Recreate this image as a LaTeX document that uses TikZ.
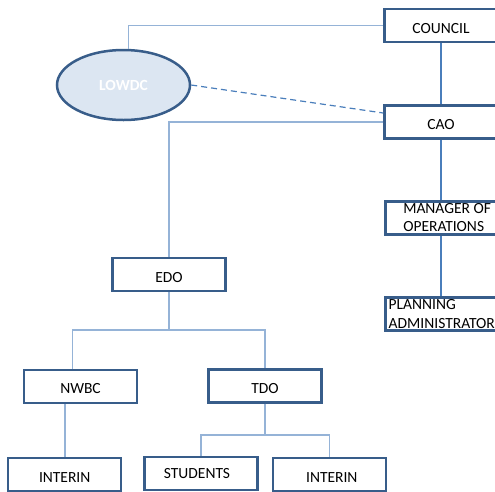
\documentclass[tikz,border=0pt]{standalone}
\usepackage{fontspec}
\setmainfont{Carlito}
\usetikzlibrary{shapes.geometric}
\definecolor{boxline}{HTML}{385D8A}
\definecolor{ovalfill}{HTML}{DCE6F2}
\definecolor{linkdark}{HTML}{4A7EBB}
\definecolor{linklight}{HTML}{95B3D7}
\begin{document}
\begin{tikzpicture}[x=1pt, y=-1pt,
		box/.style={draw=boxline, line width=2.5pt, fill=white, minimum width=113pt, minimum height=33pt, inner sep=0pt, font=\fontsize{15.5}{18}\selectfont},
		onebox/.style={box, text height=15pt, text depth=0pt},
		oval/.style={ellipse, draw=boxline, line width=2.5pt, fill=ovalfill, minimum width=133pt, minimum height=70pt, inner sep=0pt, text=white, font=\fontsize{15.5}{18}\selectfont\bfseries},
		darklink/.style={draw=linkdark, line width=1.2pt},
		lightlink/.style={draw=linklight, line width=1.6pt}]
	\useasboundingbox (0,0) rectangle (495,491);
	% top of the chart
	\node[onebox] (council) at (441,25.5) {COUNCIL};
	\node[onebox] (cao) at (441,122) {CAO};
	\node[box, anchor=west, align=left, inner xsep=18pt] (manager) at (384,218) {MANAGER OF\\OPERATIONS};
	\node[box, anchor=west, align=left, inner xsep=3pt, font=\fontsize{15.5}{19}\selectfont] (planning) at (384,314) {PLANNING\\ADMINISTRATOR};
	\node[oval] (lowdc) at (123.5,85) {LOWDC};
	% lower branch
	\node[onebox] (edo) at (169,274.5) {EDO};
	\node[onebox] (nwbc) at (80.5,386.3) {NWBC};
	\node[onebox] (tdo) at (265,385.8) {TDO};
	\node[onebox] (interinA) at (64.7,474.5) {INTERIN};
	\node[box] (students) at (201,473.5) {\hspace*{-8pt}STUDENTS};
	\node[onebox] (interinB) at (329.3,474.5) {\hspace*{5pt}INTERIN};
	\coordinate (edobus) at (169,330);
	\coordinate (tdobus) at (265,435);
	% connectors
	\draw[lightlink] ([xshift=5pt]lowdc.north) |- (council.west);
	\draw[darklink] (council.south) -- (cao.north);
	\draw[darklink, dashed, dash pattern=on 6pt off 4pt] (lowdc.east) -- ([yshift=9pt]cao.west);
	\draw[lightlink] (cao.west) -| (edo.north);
	\draw[darklink] (cao.south) -- (cao.south |- manager.north);
	\draw[darklink] (cao.south |- manager.south) -- (cao.south |- planning.north);
	\draw[lightlink] (edo.south) -- (edobus);
	\draw[lightlink] ([xshift=-8pt]nwbc.north) |- (edobus) -| (tdo.north);
	\draw[lightlink] (interinA.north) -- (interinA.north |- nwbc.south);
	\draw[lightlink] (tdo.south) -- (tdobus);
	\draw[lightlink] (students.north) |- (tdobus) -| (interinB.north);
\end{tikzpicture}
\end{document}
